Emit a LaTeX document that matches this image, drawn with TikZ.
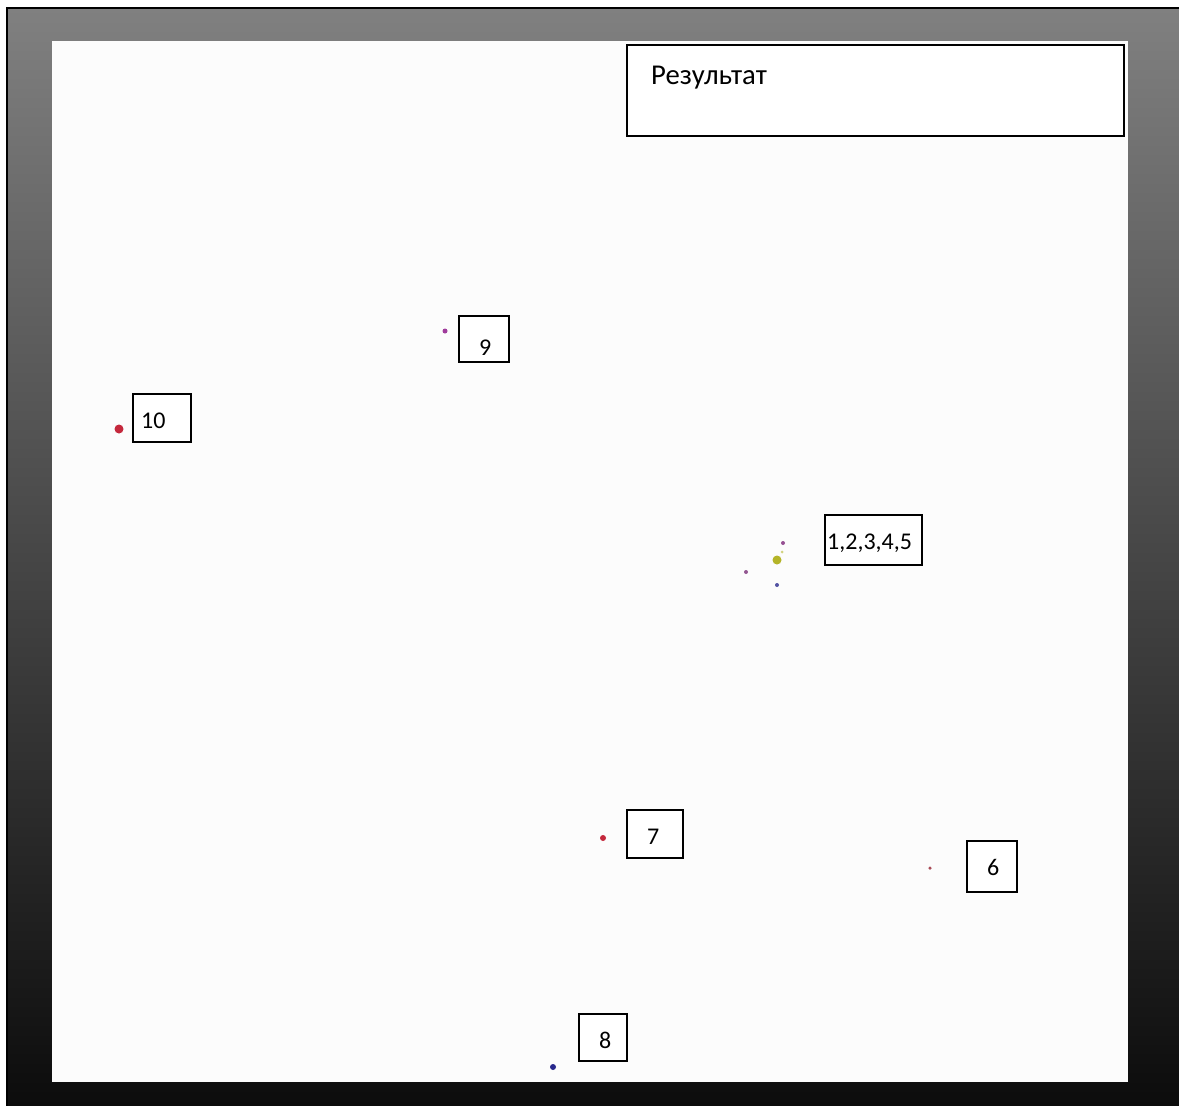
\documentclass[tikz,border=0pt]{standalone}
\usepackage{fontspec}
\setmainfont{Carlito}
\begin{document}
\begin{tikzpicture}[x=1pt,y=-1pt,
  numbox/.style={draw=black, line width=1.3pt, fill=white, rectangle, inner sep=0pt},
  numtxt/.style={anchor=base west, inner sep=0pt, font=\fontsize{24}{27}\selectfont},
  dot/.style={circle, inner sep=0pt, draw=none}]
\definecolor{frametop}{HTML}{808080}
\definecolor{framebot}{HTML}{0C0C0C}
\definecolor{redd}{HTML}{C4283C}
\definecolor{purp}{HTML}{A03C9C}
\definecolor{yel}{HTML}{B4B428}
\definecolor{blu}{HTML}{28288C}
\useasboundingbox (0,0) rectangle (1179,1106);
\fill[white] (0,0) rectangle (1179,1106);
% frame
\shade[top color=frametop, bottom color=framebot] (6,8) rectangle (1179,1106);
\draw[black, line width=2pt] (7,1106) -- (7,8) -- (1179,8);
\fill[white!99!black] (52,41) rectangle (1128,1082);
% result box
\node[draw=black, line width=2pt, fill=white, rectangle, inner sep=0pt,
      minimum width=497pt, minimum height=91pt] (res) at (875.5,90.5) {};
\node[anchor=base west, inner sep=0pt, font=\fontsize{28.7}{32}\selectfont] (restxt) at (651,84) {Результат};
% boxes
\node[numbox, minimum width=50pt, minimum height=46pt] (b9) at (484,339) {};
\node[numtxt] (t9) at (479,355) {9};
\node[numbox, minimum width=58pt, minimum height=48pt] (b10) at (162,418) {};
\node[numtxt] (t10) at (141,428) {10};
\node[numbox, minimum width=97pt, minimum height=50pt] (b15) at (873.5,540) {};
\node[numtxt] (t15) at (827,549) {1,2,3,4,5};
\node[numbox, minimum width=56pt, minimum height=48pt] (b7) at (655,834) {};
\node[numtxt] (t7) at (647,844) {7};
\node[numbox, minimum width=50pt, minimum height=51pt] (b6) at (992,866.5) {};
\node[numtxt] (t6) at (987,875) {6};
\node[numbox, minimum width=48pt, minimum height=47pt] (b8) at (603,1037.5) {};
\node[numtxt] (t8) at (599,1048) {8};
% dots
\node[dot, fill=redd, minimum size=9pt] (d10) at (119,429) {};
\node[dot, fill=purp, minimum size=5pt] (d9) at (445,331) {};
\node[dot, fill=yel, minimum size=9pt] (d1) at (777,560) {};
\node[dot, fill=purp!70!gray, minimum size=4pt] (d2) at (783,543) {};
\node[dot, fill=yel!60!white, minimum size=3pt] (d3) at (782,552) {};
\node[dot, fill=purp!60!gray, minimum size=4pt] (d4) at (746,572) {};
\node[dot, fill=blu!80!white, minimum size=4pt] (d5) at (777,585) {};
\node[dot, fill=redd, minimum size=6pt] (d7) at (603,838) {};
\node[dot, fill=redd!60!gray, minimum size=3.5pt] (d6) at (930,868) {};
\node[dot, fill=blu, minimum size=6pt] (d8) at (553,1067) {};
\end{tikzpicture}
\end{document}
